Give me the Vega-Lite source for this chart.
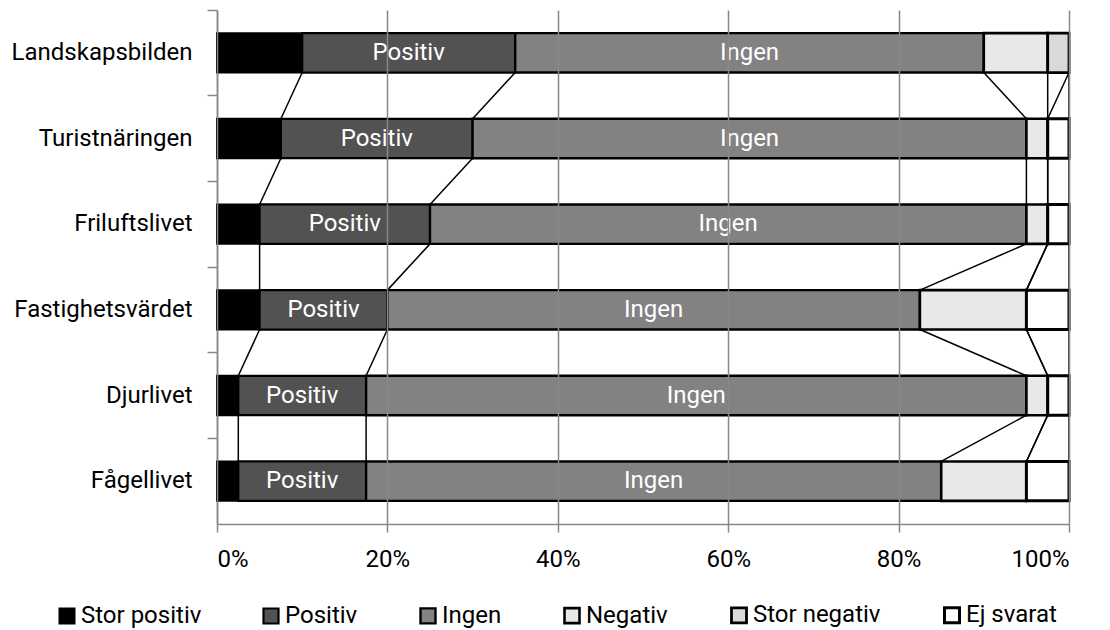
{
  "$schema": "https://vega.github.io/schema/vega-lite/v6.json",
  "width": 852,
  "height": 514,
  "autosize": {"type": "none"},
  "padding": {"left": 217, "top": 10, "right": 41, "bottom": 106},
  "background": "white",
  "config": {"view": {"stroke": null}, "font": "Roboto"},
  "datasets": {
    "svar": [
      {"omrade": "Landskapsbilden", "ci": 0, "svar": "Stor positiv", "ri": 0, "andel": 10},
      {"omrade": "Landskapsbilden", "ci": 0, "svar": "Positiv", "ri": 1, "andel": 25},
      {"omrade": "Landskapsbilden", "ci": 0, "svar": "Ingen", "ri": 2, "andel": 55},
      {"omrade": "Landskapsbilden", "ci": 0, "svar": "Negativ", "ri": 3, "andel": 7.5},
      {"omrade": "Landskapsbilden", "ci": 0, "svar": "Stor negativ", "ri": 4, "andel": 2.5},
      {"omrade": "Landskapsbilden", "ci": 0, "svar": "Ej svarat", "ri": 5, "andel": 0},
      {"omrade": "Turistnäringen", "ci": 1, "svar": "Stor positiv", "ri": 0, "andel": 7.5},
      {"omrade": "Turistnäringen", "ci": 1, "svar": "Positiv", "ri": 1, "andel": 22.5},
      {"omrade": "Turistnäringen", "ci": 1, "svar": "Ingen", "ri": 2, "andel": 65},
      {"omrade": "Turistnäringen", "ci": 1, "svar": "Negativ", "ri": 3, "andel": 2.5},
      {"omrade": "Turistnäringen", "ci": 1, "svar": "Stor negativ", "ri": 4, "andel": 0},
      {"omrade": "Turistnäringen", "ci": 1, "svar": "Ej svarat", "ri": 5, "andel": 2.5},
      {"omrade": "Friluftslivet", "ci": 2, "svar": "Stor positiv", "ri": 0, "andel": 5},
      {"omrade": "Friluftslivet", "ci": 2, "svar": "Positiv", "ri": 1, "andel": 20},
      {"omrade": "Friluftslivet", "ci": 2, "svar": "Ingen", "ri": 2, "andel": 70},
      {"omrade": "Friluftslivet", "ci": 2, "svar": "Negativ", "ri": 3, "andel": 2.5},
      {"omrade": "Friluftslivet", "ci": 2, "svar": "Stor negativ", "ri": 4, "andel": 0},
      {"omrade": "Friluftslivet", "ci": 2, "svar": "Ej svarat", "ri": 5, "andel": 2.5},
      {"omrade": "Fastighetsvärdet", "ci": 3, "svar": "Stor positiv", "ri": 0, "andel": 5},
      {"omrade": "Fastighetsvärdet", "ci": 3, "svar": "Positiv", "ri": 1, "andel": 15},
      {"omrade": "Fastighetsvärdet", "ci": 3, "svar": "Ingen", "ri": 2, "andel": 62.5},
      {"omrade": "Fastighetsvärdet", "ci": 3, "svar": "Negativ", "ri": 3, "andel": 12.5},
      {"omrade": "Fastighetsvärdet", "ci": 3, "svar": "Stor negativ", "ri": 4, "andel": 0},
      {"omrade": "Fastighetsvärdet", "ci": 3, "svar": "Ej svarat", "ri": 5, "andel": 5},
      {"omrade": "Djurlivet", "ci": 4, "svar": "Stor positiv", "ri": 0, "andel": 2.5},
      {"omrade": "Djurlivet", "ci": 4, "svar": "Positiv", "ri": 1, "andel": 15},
      {"omrade": "Djurlivet", "ci": 4, "svar": "Ingen", "ri": 2, "andel": 77.5},
      {"omrade": "Djurlivet", "ci": 4, "svar": "Negativ", "ri": 3, "andel": 2.5},
      {"omrade": "Djurlivet", "ci": 4, "svar": "Stor negativ", "ri": 4, "andel": 0},
      {"omrade": "Djurlivet", "ci": 4, "svar": "Ej svarat", "ri": 5, "andel": 2.5},
      {"omrade": "Fågellivet", "ci": 5, "svar": "Stor positiv", "ri": 0, "andel": 2.5},
      {"omrade": "Fågellivet", "ci": 5, "svar": "Positiv", "ri": 1, "andel": 15},
      {"omrade": "Fågellivet", "ci": 5, "svar": "Ingen", "ri": 2, "andel": 67.5},
      {"omrade": "Fågellivet", "ci": 5, "svar": "Negativ", "ri": 3, "andel": 10},
      {"omrade": "Fågellivet", "ci": 5, "svar": "Stor negativ", "ri": 4, "andel": 0},
      {"omrade": "Fågellivet", "ci": 5, "svar": "Ej svarat", "ri": 5, "andel": 5}
    ]
  },
  "data": {"name": "svar"},
  "transform": [
    {"stack": "andel", "groupby": ["omrade"], "sort": [{"field": "ri", "order": "ascending"}], "as": ["cum0", "cum1"]}
  ],
  "layer": [
    {
      "transform": [{"filter": "datum.andel > 0"}],
      "mark": {"type": "bar", "height": {"band": 0.46}, "stroke": "black"},
      "encoding": {
        "y": {
          "field": "omrade", "type": "nominal",
          "sort": ["Landskapsbilden", "Turistnäringen", "Friluftslivet", "Fastighetsvärdet", "Djurlivet", "Fågellivet"],
          "scale": {"paddingInner": 0, "paddingOuter": 0},
          "axis": {
            "title": null, "bandPosition": 0,
            "tickSize": 10, "tickColor": "#888888", "tickWidth": 1.5,
            "domainColor": "#888888", "domainWidth": 1.5,
            "labelFontSize": 24, "labelColor": "black", "labelPadding": 15, "labelLimit": 400, "grid": false
          }
        },
        "x": {
          "field": "cum0", "type": "quantitative",
          "scale": {"domain": [0, 100], "nice": false},
          "axis": {
            "title": null, "values": [0, 20, 40, 60, 80, 100], "labelExpr": "datum.value + '%'",
            "grid": true, "gridColor": "#888888", "gridWidth": 1.5,
            "domainColor": "#888888", "domainWidth": 1.5,
            "tickColor": "#888888", "tickSize": 8, "tickWidth": 1.5,
            "labelFontSize": 24, "labelColor": "black", "labelPadding": 15, "zindex": 1
          }
        },
        "x2": {"field": "cum1"},
        "fill": {
          "field": "svar", "type": "nominal",
          "scale": {
            "domain": ["Stor positiv", "Positiv", "Ingen", "Negativ", "Stor negativ", "Ej svarat"],
            "range": ["#000000", "#525252", "#828282", "#e8e8e8", "#d9d9d9", "#ffffff"]
          },
          "legend": {
            "title": null, "orient": "none", "legendX": -162, "legendY": 593,
            "direction": "horizontal", "columns": 6, "columnPadding": 57,
            "symbolType": "square", "symbolSize": 225, "symbolStrokeColor": "black", "symbolStrokeWidth": 2,
            "symbolOpacity": 1, "labelOffset": 2, "labelLimit": 300,
            "labelFontSize": 24, "labelColor": "black", "labelFont": "Roboto"
          }
        },
        "strokeWidth": {
          "field": "svar", "type": "nominal",
          "scale": {
            "domain": ["Stor positiv", "Positiv", "Ingen", "Negativ", "Stor negativ", "Ej svarat"],
            "range": [2, 3, 3, 2.5, 1.5, 1.5]
          },
          "legend": null
        }
      }
    },
    {
      "transform": [
        {"window": [{"op": "lead", "field": "cum1", "as": "nextEnd"}, {"op": "lead", "field": "omrade", "as": "nextOmrade"}], "groupby": ["svar"], "sort": [{"field": "ci", "order": "ascending"}]},
        {"filter": "datum.nextOmrade != null"}
      ],
      "mark": {"type": "rule", "color": "black", "strokeWidth": 1.5},
      "encoding": {
        "y": {
          "field": "omrade", "type": "nominal",
          "sort": ["Landskapsbilden", "Turistnäringen", "Friluftslivet", "Fastighetsvärdet", "Djurlivet", "Fågellivet"],
          "bandPosition": 0.73
        },
        "y2": {"field": "nextOmrade", "bandPosition": 0.27},
        "x": {"field": "cum1", "type": "quantitative"},
        "x2": {"field": "nextEnd"}
      }
    },
    {
      "transform": [
        {"filter": "datum.svar == 'Positiv' || datum.svar == 'Ingen'"},
        {"calculate": "(datum.cum0 + datum.cum1) / 2", "as": "mitt"}
      ],
      "mark": {"type": "text", "color": "white", "fontSize": 24, "font": "Roboto", "align": "center", "baseline": "middle"},
      "encoding": {
        "y": {
          "field": "omrade", "type": "nominal",
          "sort": ["Landskapsbilden", "Turistnäringen", "Friluftslivet", "Fastighetsvärdet", "Djurlivet", "Fågellivet"]
        },
        "x": {"field": "mitt", "type": "quantitative"},
        "text": {"field": "svar"}
      }
    }
  ]
}
